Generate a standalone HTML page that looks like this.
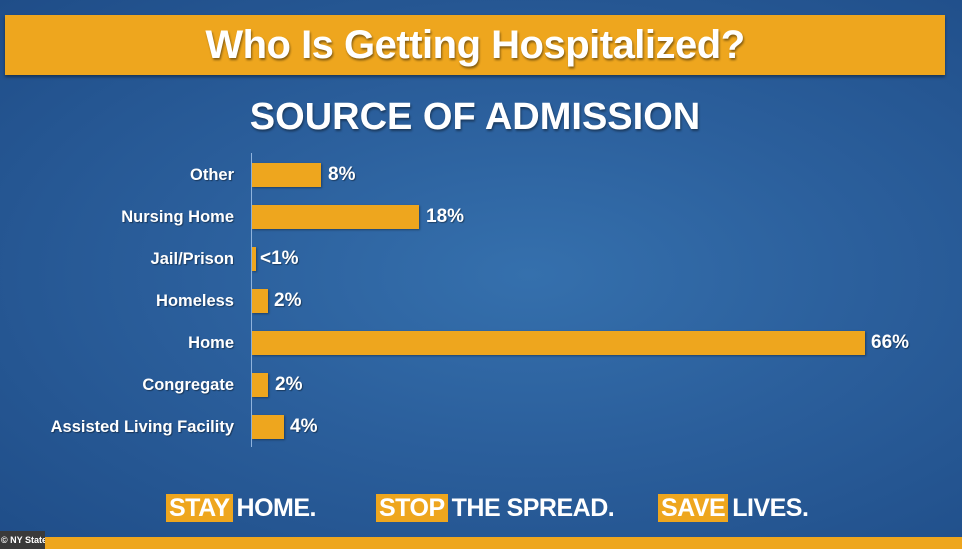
<!DOCTYPE html>
<html><head><meta charset="utf-8"><style>
body{margin:0;width:962px;height:549px;overflow:hidden;position:relative;font-family:"Liberation Sans",sans-serif;font-weight:bold;color:#fff;
background:radial-gradient(ellipse at 55% 50%,#3570ad 0%,#2b5f9c 45%,#1f4d88 100%);}
.a{position:absolute}
.t{position:absolute;left:5px;top:15px;width:940px;height:60px;background:#eea61e;box-shadow:0 2px 3px rgba(0,0,0,.4);text-align:center;line-height:60px;font-size:40px;letter-spacing:-0.5px;text-shadow:1px 2px 2px rgba(0,0,0,.45)}
.s{left:0;width:950px;top:96px;text-align:center;font-size:38px;text-shadow:1px 2px 2px rgba(0,0,0,.4)}
.l{right:728px;font-size:16.5px;line-height:20px;text-align:right;white-space:nowrap;text-shadow:1px 1px 1px rgba(0,0,0,.4)}
.b{left:252px;height:24px;background:#eea61e;box-shadow:1px 1px 2px rgba(0,0,0,.35)}
.v{font-size:19px;line-height:24px;text-shadow:1px 1px 1px rgba(0,0,0,.4)}
.f{top:494px;font-size:25px;line-height:29px;letter-spacing:-0.5px;white-space:nowrap}
.f span{background:#eea61e;padding:0 3px;margin-right:4px}
</style></head><body>
<div class="t">Who Is Getting Hospitalized?</div>
<div class="a s">SOURCE OF ADMISSION</div>
<div class="a" style="left:251px;top:153px;width:1px;height:294px;background:#8fb3dd"></div>

<div class="a l" style="top:165px">Other</div>
<div class="a b" style="top:163px;width:69px"></div>
<div class="a v" style="left:328px;top:163px">8%</div>

<div class="a l" style="top:207px">Nursing Home</div>
<div class="a b" style="top:205px;width:167px"></div>
<div class="a v" style="left:426px;top:205px">18%</div>

<div class="a l" style="top:249px">Jail/Prison</div>
<div class="a b" style="top:247px;width:4px"></div>
<div class="a v" style="left:260px;top:247px">&lt;1%</div>

<div class="a l" style="top:291px">Homeless</div>
<div class="a b" style="top:289px;width:16px"></div>
<div class="a v" style="left:274px;top:289px">2%</div>

<div class="a l" style="top:333px">Home</div>
<div class="a b" style="top:331px;width:613px"></div>
<div class="a v" style="left:871px;top:331px">66%</div>

<div class="a l" style="top:375px">Congregate</div>
<div class="a b" style="top:373px;width:16px"></div>
<div class="a v" style="left:275px;top:373px">2%</div>

<div class="a l" style="top:417px">Assisted Living Facility</div>
<div class="a b" style="top:415px;width:32px"></div>
<div class="a v" style="left:290px;top:415px">4%</div>

<div class="a f" style="left:166px"><span>STAY</span>HOME.</div>
<div class="a f" style="left:376px"><span>STOP</span>THE SPREAD.</div>
<div class="a f" style="left:658px"><span>SAVE</span>LIVES.</div>
<div class="a" style="left:0;top:537px;width:962px;height:12px;background:#eea61e"></div>
<div class="a" style="left:0;top:531px;width:44px;height:18px;background:#3a3a3a;font-size:9px;line-height:18px;padding-left:1px;white-space:nowrap;overflow:hidden">© NY State</div>
</body></html>
